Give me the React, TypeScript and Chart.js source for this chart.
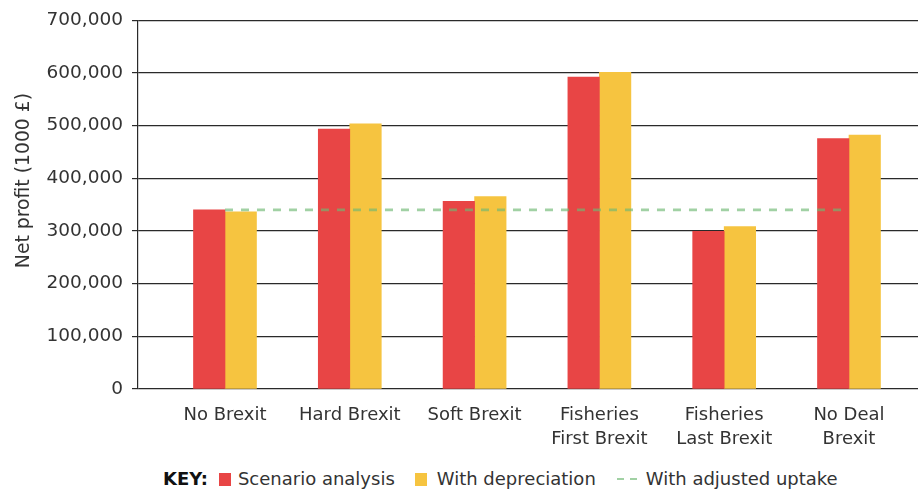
import React, { useEffect, useRef } from "react";
import { Chart, registerables } from "chart.js";

Chart.register(...registerables);

const categories: string[][] = [
  ["No Brexit"],
  ["Hard Brexit"],
  ["Soft Brexit"],
  ["Fisheries", "First Brexit"],
  ["Fisheries", "Last Brexit"],
  ["No Deal", "Brexit"],
];
const scenarioAnalysis = [340000, 493000, 356000, 592000, 299000, 475000];
const withDepreciation = [336000, 503000, 365000, 601000, 308000, 482000];
const adjustedUptake = [340000, 340000, 340000, 340000, 340000, 340000];
const yTickValues = [0, 100000, 200000, 300000, 400000, 500000, 600000, 700000];
const Y_TITLE = "Net profit (1000 £)";
const SERIES_NAMES = ["Scenario analysis", "With depreciation", "With adjusted uptake"];

const RED = "#e84545";
const YELLOW = "#f6c440";
const GREEN = "rgba(110, 185, 115, 0.65)";
const TEXT = "#333333";
const FONT = '"DejaVu Sans", sans-serif';

const yTitlePlugin = {
  id: "yTitle",
  afterDraw(chart: any) {
    const { ctx, chartArea } = chart;
    ctx.save();
    ctx.translate(24, chartArea.top + (chartArea.bottom - chartArea.top) * 0.435);
    ctx.rotate(-Math.PI / 2);
    ctx.font = `18.8px ${FONT}`;
    ctx.fillStyle = TEXT;
    ctx.textAlign = "center";
    ctx.textBaseline = "middle";
    ctx.fillText(Y_TITLE, 0, 0);
    ctx.restore();
  },
};

export default function App() {
  const ref = useRef<HTMLCanvasElement>(null);

  useEffect(() => {
    document.body.style.margin = "0";
    const canvas = ref.current!;
    const chart = new Chart(canvas, {
      type: "bar",
      data: {
        datasets: [
          {
            type: "line",
            label: SERIES_NAMES[2],
            data: adjustedUptake.map((v, i) => ({ x: i, y: v })),
            borderColor: GREEN,
            borderWidth: 2.7,
            borderDash: [8, 8],
            pointRadius: 0,
            fill: false,
            order: 0,
          } as any,
          {
            type: "bar",
            label: SERIES_NAMES[0],
            data: scenarioAnalysis.map((v, i) => ({ x: i, y: v })),
            backgroundColor: RED,
            barThickness: 31.5,
            order: 1,
          },
          {
            type: "bar",
            label: SERIES_NAMES[1],
            data: withDepreciation.map((v, i) => ({ x: i, y: v })),
            backgroundColor: YELLOW,
            barThickness: 31.5,
            order: 1,
          },
        ],
      },
      options: {
        animation: false,
        responsive: false,
        maintainAspectRatio: false,
        layout: { padding: { top: 19, right: 0, bottom: 0, left: 0 } },
        plugins: {
          legend: { display: false },
          tooltip: { enabled: false },
        },
        scales: {
          x: {
            type: "linear",
            offset: false,
            min: -0.697,
            max: 5.553,
            afterBuildTicks: (axis: any) => {
              axis.ticks = categories.map((_, i) => ({ value: i }));
            },
            afterFit: (scale: any) => {
              scale.height = 66;
            },
            grid: { display: false },
            border: { display: false },
            ticks: {
              autoSkip: false,
              maxRotation: 0,
              color: TEXT,
              padding: 6,
              font: { family: FONT, size: 18, lineHeight: 1.33 },
              callback: (v: any) => categories[v as number] ?? "",
            },
          },
          y: {
            type: "linear",
            min: 0,
            max: 700000,
            afterBuildTicks: (axis: any) => {
              axis.ticks = yTickValues.map((v) => ({ value: v }));
            },
            afterFit: (scale: any) => {
              scale.width = 138;
            },
            grid: {
              color: "#2a2a2a",
              lineWidth: 1.2,
              tickLength: 6,
              drawTicks: true,
            },
            border: { display: true, color: "#2a2a2a", width: 1.2 },
            ticks: {
              color: TEXT,
              padding: 9,
              font: { family: FONT, size: 18.5 },
              callback: (v: any) => Number(v).toLocaleString("en-US"),
            },
          },
        },
      },
      plugins: [yTitlePlugin],
    } as any);
    return () => chart.destroy();
  }, []);

  const sq = (c: string): React.CSSProperties => ({
    display: "inline-block",
    width: 12,
    height: 13,
    background: c,
  });

  return (
    <div style={{ position: "relative", width: 918, height: 493, fontFamily: FONT }}>
      <canvas ref={ref} width={918} height={455} style={{ display: "block" }} />
      <div
        style={{
          position: "absolute",
          top: 467,
          left: 163,
          display: "flex",
          alignItems: "center",
          fontSize: 18,
          color: TEXT,
          whiteSpace: "nowrap",
          lineHeight: "24px",
        }}
      >
        <span style={{ fontWeight: "bold", color: "#111" }}>KEY:</span>
        <span style={{ ...sq(RED), marginLeft: 11 }} />
        <span style={{ marginLeft: 7 }}>{SERIES_NAMES[0]}</span>
        <span style={{ ...sq(YELLOW), marginLeft: 20 }} />
        <span style={{ marginLeft: 10 }}>{SERIES_NAMES[1]}</span>
        <span style={{ marginLeft: 21, display: "inline-flex", gap: 6 }}>
          <span style={{ display: "inline-block", width: 7, height: 2.5, background: GREEN }} />
          <span style={{ display: "inline-block", width: 7, height: 2.5, background: GREEN }} />
        </span>
        <span style={{ marginLeft: 9 }}>{SERIES_NAMES[2]}</span>
      </div>
    </div>
  );
}
